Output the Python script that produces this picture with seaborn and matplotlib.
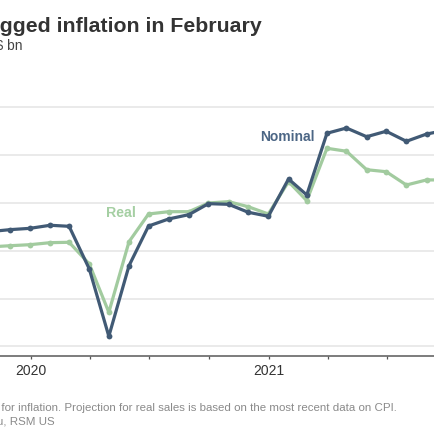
import matplotlib
matplotlib.use("Agg")
import matplotlib.pyplot as plt
import matplotlib.dates as mdates
import pandas as pd
import seaborn as sns

# ---- data ----
months = pd.date_range("2019-10-31", periods=24, freq="ME")
nominal = [520.0, 522.0, 523.4, 526.6, 525.5, 480.9, 410.5, 484.3, 525.8, 533.2,
           537.7, 549.2, 548.5, 540.2, 536.0, 575.0, 558.3, 622.8, 628.3, 619.2,
           624.9, 614.4, 622.0, 626.0]
real = [504.0, 505.2, 506.3, 508.4, 508.8, 486.1, 435.6, 509.4, 538.4, 540.8,
        540.8, 549.9, 551.3, 546.0, 538.4, 572.2, 552.3, 607.1, 604.0, 584.7,
        582.6, 568.7, 574.0, 574.0]
series_names = ["Real", "Nominal"]
year_ticks = ["2020", "2021"]
y_grid = [400, 450, 500, 550, 600, 650]

title = "Retail sales lagged inflation in February"
subtitle = "Retail sales, $ bn"
note1 = "Note: Real sales are adjusted for inflation. Projection for real sales is based on the most recent data on CPI."
note2 = "Source: U.S. Census Bureau, RSM US"

df = pd.DataFrame({
    "date": list(months) * 2,
    "value": real + nominal,
    "series": ["Real"] * len(real) + ["Nominal"] * len(nominal),
})

# ---- style ----
sns.set_theme(style="white")
plt.rcParams['font.family'] = ['Liberation Sans', 'DejaVu Sans']

W = H = 435
fig = plt.figure(figsize=(W / 100, H / 100), dpi=100)
ax_left_px, ax_right_px = -20, 455
ax_top_px, ax_bot_px = 107.3, 356.7
ax = fig.add_axes([ax_left_px / W, 1 - ax_bot_px / H,
                   (ax_right_px - ax_left_px) / W, (ax_bot_px - ax_top_px) / H])

palette = {"Nominal": "#415a75", "Real": "#a2cb9f"}
sns.lineplot(data=df, x="date", y="value", hue="series", hue_order=series_names,
             palette=palette, marker="o", markersize=4.2, markeredgewidth=0,
             linewidth=2.3, legend=False, ax=ax)

# x scale: Jan 1 2020 at px 30.7, Jan 1 2021 at px 269
ppd = (269 - 30.7) / 366.0
ref = mdates.date2num(pd.Timestamp("2020-01-01"))
ax.set_xlim(ref - (30.7 - ax_left_px) / ppd, ref + (ax_right_px - 30.7) / ppd)
ax.set_ylim(390.2, 651)

tick_dates = [pd.Timestamp(f"{y}-01-01") for y in year_ticks]
ax.set_xticks(tick_dates)
ax.set_xticklabels(year_ticks)
ax.xaxis.set_minor_locator(mdates.MonthLocator(bymonth=[1, 4, 7, 10]))
ax.tick_params(axis="x", which="both", direction="out", length=2.4, width=0.9,
               color="#555555", labelsize=10, labelcolor="#333333", pad=3, bottom=True)
ax.set_yticks(y_grid)
ax.tick_params(axis="y", length=0, labelleft=False)
ax.yaxis.grid(True, color="#e8e8e8", linewidth=1.3)
ax.set_axisbelow(True)
ax.set_xlabel("")
ax.set_ylabel("")
for s in ["top", "left", "right"]:
    ax.spines[s].set_visible(False)
ax.spines["bottom"].set_color("#666666")
ax.spines["bottom"].set_linewidth(1.2)

# direct labels
fig.text(315 / W, 1 - 141.5 / H, "Nominal", ha="right", va="baseline",
         fontsize=10, weight="bold", color="#4c6685")
fig.text(135.5 / W, 1 - 217.3 / H, "Real", ha="right", va="baseline",
         fontsize=10.2, weight="bold", color="#a5cfa3")

# titles / notes (clipped at left like the reference)
fig.text(261.5 / W, 1 - 32.5 / H, title, ha="right", va="baseline",
         fontsize=15.3, weight="bold", color="#333333")
fig.text(22.5 / W, 1 - 50 / H, subtitle, ha="right", va="baseline",
         fontsize=10, color="#444444")
fig.text(397 / W, 1 - 410.7 / H, note1, ha="right", va="baseline",
         fontsize=8.25, color="#8a8a8a")
fig.text(55 / W, 1 - 424.3 / H, note2, ha="right", va="baseline",
         fontsize=8.25, color="#8a8a8a")

fig.savefig("out.png", dpi=100, facecolor="white")
